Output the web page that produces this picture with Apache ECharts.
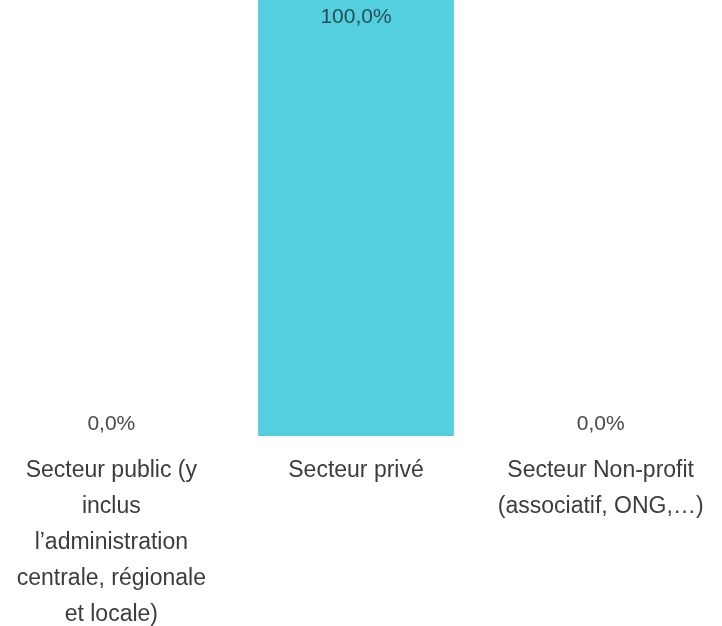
<!DOCTYPE html>
<html>
<head>
<meta charset="utf-8">
<script src="https://cdn.jsdelivr.net/npm/echarts@6/dist/echarts.min.js"></script>
<style>
  html, body { margin: 0; padding: 0; background: #ffffff; }
  #chart { width: 722px; height: 626px; }
</style>
</head>
<body>
<div id="chart"></div>
<script>
// Répartition par secteur (%)
var categories = [
  'Secteur public (y inclus l\u2019administration centrale, régionale et locale)',
  'Secteur privé',
  'Secteur Non-profit (associatif, ONG,\u2026)'
];
var values = [0, 100, 0];

var barColor = '#53cfe0';
var fontFamily = 'Liberation Sans, Arial, sans-serif';
var labelFontSize = 23;
var labelMaxWidth = 210;

function fmt(v) {
  return v.toFixed(1).replace('.', ',') + '%';
}

// Word-wrap a category name into lines no wider than maxWidth (no trailing spaces).
var measureCtx = document.createElement('canvas').getContext('2d');
function wrap(text, fontSize, maxWidth) {
  measureCtx.font = fontSize + 'px ' + fontFamily;
  var words = text.split(' ');
  var lines = [];
  var line = '';
  words.forEach(function (w) {
    var test = line ? line + ' ' + w : w;
    if (line && measureCtx.measureText(test).width > maxWidth) {
      lines.push(line);
      line = w;
    } else {
      line = test;
    }
  });
  if (line) lines.push(line);
  return lines.join('\n');
}

var chart = echarts.init(document.getElementById('chart'), null, { renderer: 'canvas' });

chart.setOption({
  animation: false,
  grid: {
    left: -11, right: -1, top: -20, bottom: 190,
    containLabel: false,
    outerBoundsMode: 'none'
  },
  xAxis: {
    type: 'category',
    data: categories,
    axisLine: { show: false },
    axisTick: { show: false },
    axisLabel: {
      interval: 0,
      margin: 17,
      color: '#3c3c3c',
      fontSize: labelFontSize,
      lineHeight: 36,
      fontFamily: fontFamily,
      align: 'center',
      formatter: function (name) { return wrap(name, labelFontSize, labelMaxWidth); }
    }
  },
  yAxis: {
    type: 'value',
    min: 0,
    max: 100,
    show: false,
    splitLine: { show: false }
  },
  series: [{
    type: 'bar',
    barWidth: '80%',
    data: values.map(function (v) {
      return {
        value: v,
        label: v > 50
          ? { position: 'insideTop', distance: 27, color: 'rgba(30,45,50,0.82)' }
          : { position: 'top', distance: 1 }
      };
    }),
    itemStyle: { color: barColor },
    label: {
      show: true,
      color: '#4a4a4a',
      fontSize: 21,
      fontFamily: fontFamily,
      formatter: function (p) { return fmt(p.value); }
    }
  }]
});
</script>
</body>
</html>
